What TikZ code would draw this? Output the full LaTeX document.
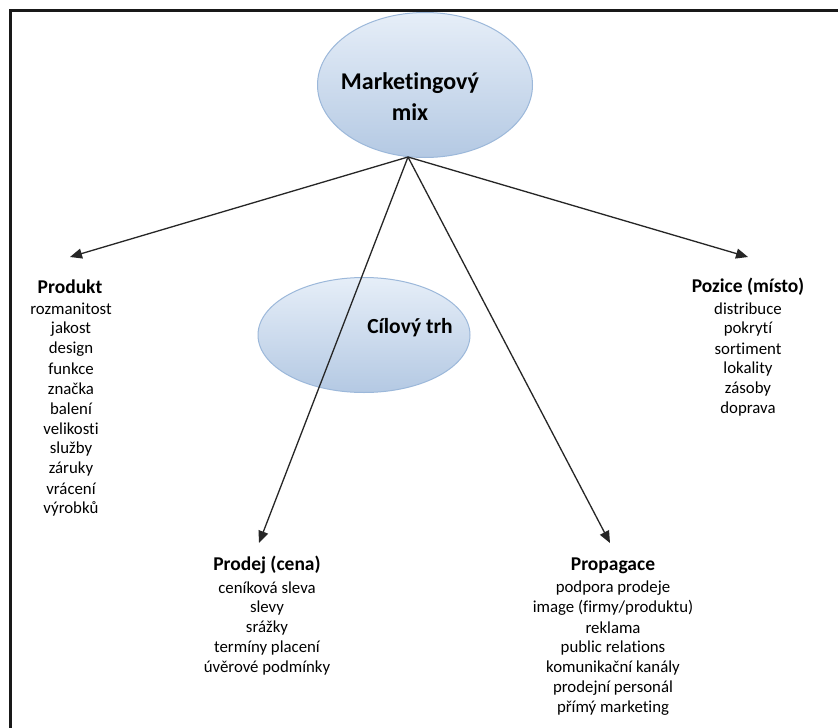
\documentclass[tikz,border=0pt]{standalone}
\usepackage{fontspec}
\setmainfont{Carlito}[Ligatures={NoCommon}]
\usetikzlibrary{shapes.geometric,arrows.meta}
\definecolor{ellTop}{HTML}{E6EEF8}
\definecolor{ellBot}{HTML}{B4C9E3}
\definecolor{ellLine}{HTML}{9CB8DA}
\tikzset{
  bubble/.style={ellipse, draw=ellLine, line width=1pt, top color=ellTop, bottom color=ellBot, inner sep=0pt},
  conn/.style={line width=1.3pt, draw=black!85, -{Triangle[length=12pt,width=10pt]}},
  head/.style={font=\fontsize{19.5}{22}\selectfont\bfseries, inner sep=0pt, anchor=center},
  item/.style={font=\fontsize{16.8}{20}\selectfont, inner sep=0pt, anchor=center},
}
\begin{document}
\begin{tikzpicture}[x=1pt,y=-1pt]
\useasboundingbox (0,0) rectangle (838,728);
\fill[white] (0,0) rectangle (838,728);
\draw[line width=3pt, black!90] (10.5,730) -- (10.5,10.5) -- (840,10.5);

% ellipses
\node[bubble, minimum width=215pt, minimum height=145pt] (mixell) at (425,85) {};
\node[font=\fontsize{24}{31}\selectfont\bfseries, align=center, inner sep=0pt] (mixtext) at (410,97) {Marketingový\\mix};
\node[bubble, minimum width=212pt, minimum height=115pt] (trhell) at (364,335) {};
\node[font=\fontsize{21.5}{24}\selectfont\bfseries, inner sep=0pt] (trhtext) at (410,328) {Cílový trh};

% arrow endpoints
\coordinate (apex) at (408,157);
\coordinate (tipA) at (70,257);
\coordinate (tipB) at (748,257);
\coordinate (tipC) at (259,543);
\coordinate (tipD) at (610,543);

\draw[conn] (apex) -- (tipA);
\draw[conn] (apex) -- (tipB);
\draw[conn] (apex) -- (tipC);
\draw[conn] (apex) -- (tipD);

% Produkt
\node[head] (hA) at (70,287) {Produkt};
\foreach \t [count=\i] in {rozmanitost,jakost,design,funkce,značka,balení,velikosti,služby,záruky,vrácení,výrobků}
  \node[item] (a\i) at (71,289+20*\i) {\t};

% Pozice
\node[head] (hB) at (748,287) {Pozice (místo)};
\foreach \t [count=\i] in {distribuce,pokrytí,sortiment,lokality,zásoby,doprava}
  \node[item] (b\i) at (748,289+20*\i) {\t};

% Prodej
\node[head] (hC) at (267,565) {Prodej (cena)};
\foreach \t [count=\i] in {ceníková sleva,slevy,srážky,termíny placení,úvěrové podmínky}
  \node[item] (c\i) at (267,568+20*\i) {\t};

% Propagace
\node[head] (hD) at (613,566) {Propagace};
\foreach \t [count=\i] in {podpora prodeje,image (firmy/produktu),reklama,public relations,komunikační kanály,prodejní personál,přímý marketing}
  \node[item] (d\i) at (613,568+20*\i) {\t};
\end{tikzpicture}
\end{document}
